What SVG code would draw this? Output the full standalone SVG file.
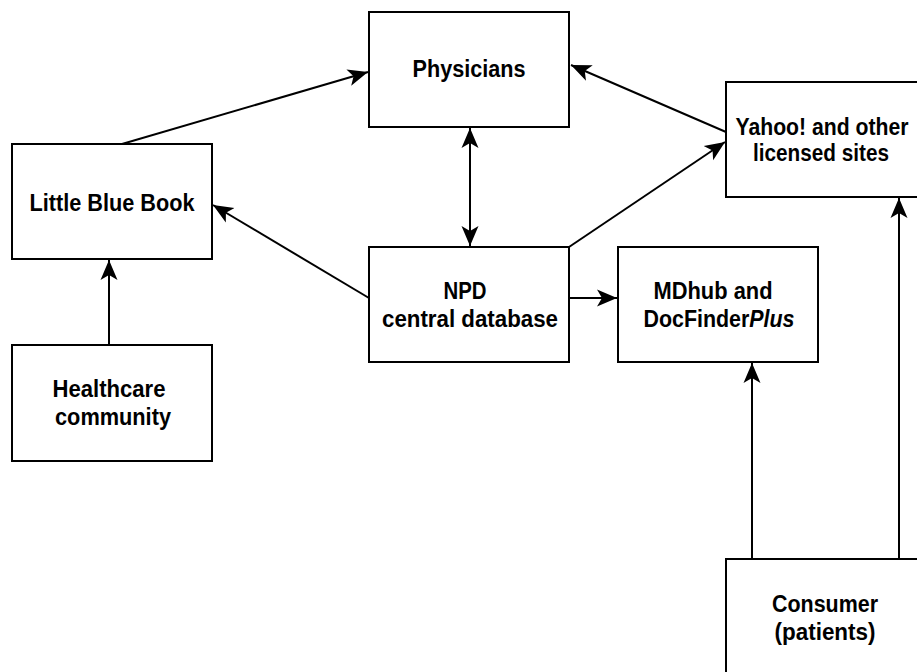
<svg xmlns="http://www.w3.org/2000/svg" width="917" height="672" viewBox="0 0 917 672">
<style>
.box{fill:#fff;stroke:#000;stroke-width:2}
.lbl{font-family:"Liberation Sans",Arial,sans-serif;font-weight:bold;font-size:23px;fill:#000;text-anchor:middle}
.edge{stroke:#000;stroke-width:2;fill:none;marker-end:url(#ah)}
</style>
<defs>
<marker id="ah" viewBox="0 0 20 20" refX="20" refY="10" markerWidth="20" markerHeight="20" markerUnits="userSpaceOnUse" orient="auto-start-reverse">
<path d="M20,10 L0,1.5 L5,10 L0,18.5 Z" fill="#000"/>
</marker>
</defs>
<rect width="917" height="672" fill="#fff"/>
<g id="connectors">
<line class="edge" x1="122" y1="144" x2="368" y2="72"/>
<line class="edge" x1="369" y1="298" x2="213" y2="205"/>
<line class="edge" x1="109" y1="345" x2="109" y2="260"/>
<line class="edge" x1="470" y1="128" x2="470" y2="246" style="marker-start:url(#ah)"/>
<line class="edge" x1="726" y1="132" x2="571" y2="65"/>
<line class="edge" x1="569" y1="247" x2="725" y2="142"/>
<line class="edge" x1="569" y1="298" x2="617" y2="298"/>
<line class="edge" x1="752" y1="559" x2="752" y2="363"/>
<line class="edge" x1="899" y1="559" x2="899" y2="198"/>
</g>
<g id="physicians">
<rect class="box" x="369" y="12" width="200" height="115"/>
<text class="lbl" x="469" y="77" textLength="113" lengthAdjust="spacingAndGlyphs">Physicians</text>
</g>
<g id="little-blue-book">
<rect class="box" x="12" y="144" width="200" height="115"/>
<text class="lbl" x="112" y="211" textLength="165" lengthAdjust="spacingAndGlyphs">Little Blue Book</text>
</g>
<g id="npd">
<rect class="box" x="369" y="247" width="200" height="115"/>
<text class="lbl" x="465" y="299" textLength="43" lengthAdjust="spacingAndGlyphs">NPD</text>
<text class="lbl" x="470" y="327" textLength="176" lengthAdjust="spacingAndGlyphs">central database</text>
</g>
<g id="mdhub">
<rect class="box" x="618" y="247" width="200" height="115"/>
<text class="lbl" x="713" y="299" textLength="119" lengthAdjust="spacingAndGlyphs">MDhub and</text>
<text class="lbl" x="719" y="327" textLength="151" lengthAdjust="spacingAndGlyphs">DocFinder<tspan font-style="italic">Plus</tspan></text>
</g>
<g id="yahoo">
<rect class="box" x="726" y="82" width="200" height="115"/>
<text class="lbl" x="822" y="135" textLength="173" lengthAdjust="spacingAndGlyphs">Yahoo! and other</text>
<text class="lbl" x="821" y="161" textLength="136" lengthAdjust="spacingAndGlyphs">licensed sites</text>
</g>
<g id="healthcare">
<rect class="box" x="12" y="345" width="200" height="116"/>
<text class="lbl" x="109" y="397" textLength="113" lengthAdjust="spacingAndGlyphs">Healthcare</text>
<text class="lbl" x="113" y="425" textLength="116" lengthAdjust="spacingAndGlyphs">community</text>
</g>
<g id="consumer">
<rect class="box" x="726" y="559" width="200" height="130"/>
<text class="lbl" x="825" y="612" textLength="106" lengthAdjust="spacingAndGlyphs">Consumer</text>
<text class="lbl" x="825" y="640" textLength="101" lengthAdjust="spacingAndGlyphs">(patients)</text>
</g>
</svg>
